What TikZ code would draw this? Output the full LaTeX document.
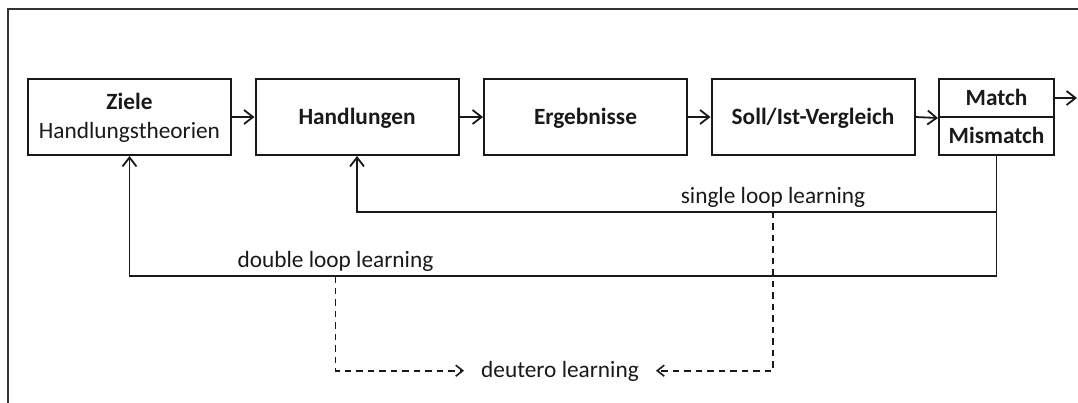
\documentclass[tikz,border=0pt]{standalone}
\usepackage{fontspec}
\setmainfont{Carlito}
\usetikzlibrary{arrows.meta}
\begin{document}
\begin{tikzpicture}[x=1pt,y=-1pt,
  box/.style={draw=black!90, line width=2pt, minimum width=203pt, minimum height=76pt,
    inner sep=0pt, font=\fontsize{23.3pt}{28.3pt}\selectfont\bfseries, text=black!90,
    text height=15pt, text depth=0pt},
  half/.style={box, minimum width=115pt, minimum height=38pt},
  conn/.style={draw=black!90, line width=1.8pt, -{Straight Barb[length=9pt,width=14pt]}},
  dconn/.style={draw=black!90, line width=1.6pt, dash pattern=on 6.5pt off 5pt,
    -{Straight Barb[length=7pt,width=11pt]}},
  lbl/.style={font=\fontsize{23.3pt}{28.3pt}\selectfont, text=black!90, inner sep=0pt}]
\useasboundingbox (0,0) rectangle (1078,402);

% open frame around the figure
\draw[line width=1.8pt, black!80] (7.6,420) -- (7.6,9) -- (1100,9);

% process chain
\node[box, align=center, text height=42pt] (z) at (129.5,117) {Ziele\\\mdseries Handlungstheorien};
\node[box] (h) at (357,117) {Handlungen};
\node[box] (e) at (585.5,117) {Ergebnisse};
\node[box] (v) at (813,117) {Soll/Ist-Vergleich};
\node[half] (m) at (996.5,98) {Match};
\node[half] (mm) at (996.5,136) {Mismatch};
\coordinate (out) at (1077,98);

\draw[conn] (z) -- (h);
\draw[conn] (h) -- (e);
\draw[conn] (e) -- (v);
\draw[conn] (v.east) -- (m.south west);
\draw[conn] (m.east) -- (out);

% feedback loops
\coordinate (slY) at (0,211.7);
\coordinate (dlY) at (0,276.3);
\draw[conn] (mm.south) -- (mm.south |- slY) -| (h.south);
\draw[conn] (mm.south) -- (mm.south |- dlY) -| (z.south);

\node[lbl, anchor=base] (sl) at (773,203) {single loop learning};
\node[lbl, anchor=base] (dl) at (335.5,267) {double loop learning};
\node[lbl, text height=13pt, text depth=0pt, inner xsep=17pt] (dt) at (560,370.7) {deutero learning};

\draw[dconn] (dl.south |- dlY) |- (dt.west);
\draw[dconn] (sl.south |- slY) |- (dt.east);
\end{tikzpicture}
\end{document}
